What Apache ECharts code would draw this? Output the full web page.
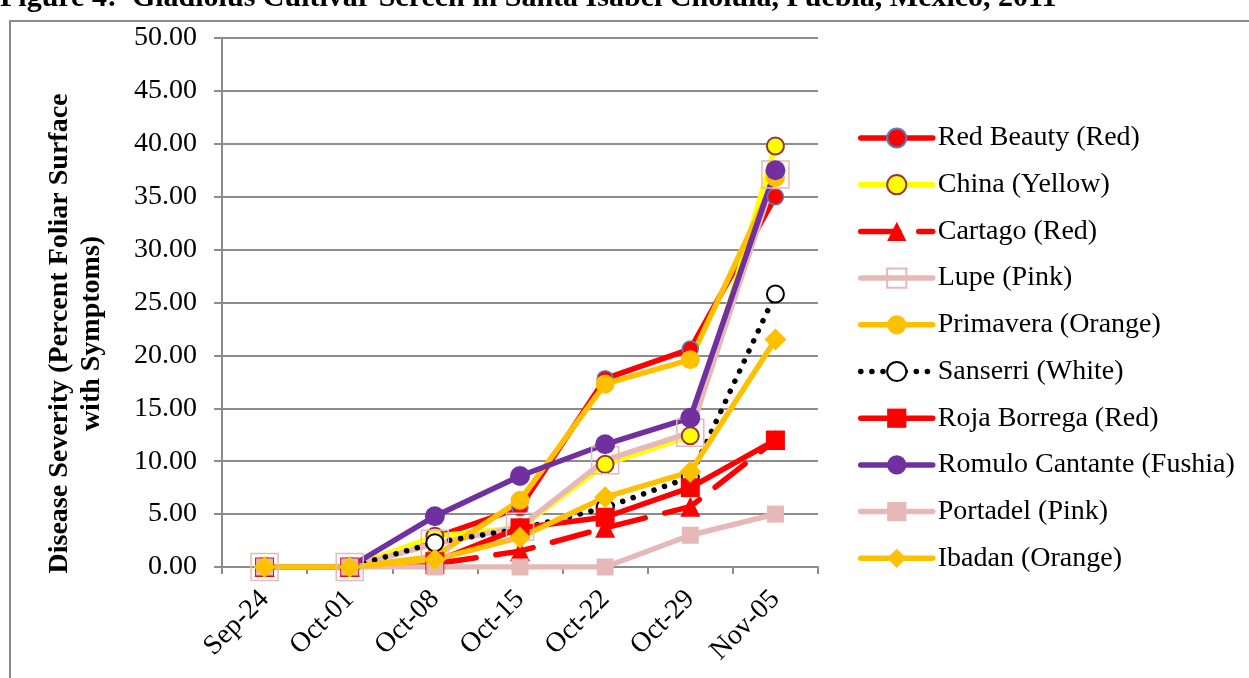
<!DOCTYPE html>
<html>
<head>
<meta charset="utf-8">
<script src="https://cdn.jsdelivr.net/npm/echarts@6/dist/echarts.min.js"></script>
<style>
  html, body { margin: 0; padding: 0; background: #fff; }
  #chart { width: 1249px; height: 678px; }
</style>
</head>
<body>
<div id="chart"></div>
<script>
// Sampling dates
const categories = ['Sep-24', 'Oct-01', 'Oct-08', 'Oct-15', 'Oct-22', 'Oct-29', 'Nov-05'];

// Disease severity (% foliar surface with symptoms) per cultivar
const redBeauty   = [0, 0, 2.8, 5.6, 17.8, 20.6, 35.0];
const china       = [0, 0, 2.9, 3.7, 9.7, 12.4, 39.8];
const cartago     = [0, 0, 0.3, 1.5, 3.7, 5.7, 12.0];
const lupe        = [0, 0, 2.2, 3.8, 10.1, 12.7, 37.1];
const primavera   = [0, 0, 1.0, 6.3, 17.3, 19.6, 36.8];
const sanserri    = [0, 0, 2.3, 3.6, 5.6, 8.5, 25.8];
const rojaBorrega = [0, 0, 0.5, 3.7, 4.7, 7.5, 12.0];
const romulo      = [0, 0, 4.8, 8.6, 11.6, 14.1, 37.5];
const portadel    = [0, 0, 0, 0, 0, 3.0, 5.0];
const ibadan      = [0, 0, 0.7, 2.8, 6.6, 9.0, 21.5];

const yTicks = { min: 0, max: 50, interval: 5 };

const FONT = "'Liberation Serif', 'Times New Roman', serif";
const GRID_GRAY = '#8c8c8c';
const LINE_W = 5.5;

function line(name, data, o) {
  const lineStyle = { color: o.lineColor, width: LINE_W, cap: 'round', join: 'round' };
  if (o.dash) lineStyle.type = o.dash;
  return {
    name: name,
    type: 'line',
    data: data,
    symbol: o.symbol,
    symbolSize: o.size,
    showAllSymbol: true,
    lineStyle: lineStyle,
    itemStyle: {
      color: o.fill,
      borderColor: o.border || o.fill,
      borderWidth: o.borderWidth || 0
    },
    emphasis: { disabled: true },
    animation: false
  };
}

const series = [
  line('Red Beauty (Red)', redBeauty, { symbol: 'circle', size: 16, lineColor: '#FF0000', fill: '#FF0000', border: '#4F81BD', borderWidth: 1.5 }),
  line('China (Yellow)', china, { symbol: 'circle', size: 17, lineColor: '#FFFF00', fill: '#FFFF00', border: '#953735', borderWidth: 2 }),
  line('Cartago (Red)', cartago, { symbol: 'triangle', size: 20, lineColor: '#FF0000', fill: '#FF0000', dash: [38, 20] }),
  line('Lupe (Pink)', lupe, { symbol: 'rect', size: 27, lineColor: '#E6B9B8', fill: 'rgba(255,255,255,0)', border: '#E6B9B8', borderWidth: 1.5 }),
  line('Primavera (Orange)', primavera, { symbol: 'circle', size: 19, lineColor: '#FFC000', fill: '#FFC000' }),
  line('Sanserri (White)', sanserri, { symbol: 'circle', size: 17, lineColor: '#000000', fill: '#FFFFFF', border: '#000000', borderWidth: 2, dash: [0.1, 11] }),
  line('Roja Borrega (Red)', rojaBorrega, { symbol: 'rect', size: 19, lineColor: '#FF0000', fill: '#FF0000' }),
  line('Romulo Cantante (Fushia)', romulo, { symbol: 'circle', size: 20, lineColor: '#7030A0', fill: '#7030A0' }),
  line('Portadel (Pink)', portadel, { symbol: 'rect', size: 17, lineColor: '#E6B9B8', fill: '#E6B9B8' }),
  line('Ibadan (Orange)', ibadan, { symbol: 'diamond', size: 22, lineColor: '#FFC000', fill: '#FFC000' })
];

const chart = echarts.init(document.getElementById('chart'), null, { renderer: 'canvas' });

chart.setOption({
  backgroundColor: '#ffffff',
  animation: false,
  textStyle: { fontFamily: FONT, color: '#000' },
  graphic: [
    {
      type: 'rect',
      shape: { x: 10, y: 21, width: 1300, height: 720 },
      style: { fill: 'none', stroke: GRID_GRAY, lineWidth: 2 },
      silent: true,
      z: -1
    },
    {
      type: 'text',
      x: 0,
      y: 13,
      style: {
        text: 'Figure 4:  Gladiolus Cultivar Screen in Santa Isabel Cholula, Puebla, Mexico, 2011',
        font: 'bold 30px ' + FONT,
        fill: '#000',
        verticalAlign: 'bottom'
      },
      silent: true
    }
  ],
  grid: { left: 222, right: 431, top: 38, bottom: 111, containLabel: false },
  legend: {
    orient: 'vertical',
    left: 858,
    top: 124,
    padding: 0,
    itemWidth: 72,
    itemHeight: 24,
    itemGap: 18.7,
    selectedMode: false,
    lineStyle: { width: 'inherit' },
    textStyle: { fontFamily: FONT, fontSize: 28, lineHeight: 28, color: '#000' },
    data: series.map(s => s.name)
  },
  xAxis: {
    type: 'category',
    data: categories,
    boundaryGap: true,
    axisLine: { show: true, lineStyle: { color: GRID_GRAY, width: 2 } },
    axisTick: { show: true, length: 7, interval: 0, lineStyle: { color: GRID_GRAY, width: 2 } },
    axisLabel: { interval: 0, rotate: 45, margin: 28, fontSize: 28, fontFamily: FONT, color: '#000' },
    splitLine: { show: false }
  },
  yAxis: {
    type: 'value',
    min: yTicks.min,
    max: yTicks.max,
    interval: yTicks.interval,
    name: 'Disease Severity (Percent Foliar Surface\nwith Symptoms)',
    nameLocation: 'middle',
    nameGap: 114,
    nameRotate: 90,
    nameTextStyle: { fontFamily: FONT, fontSize: 28, fontWeight: 'bold', lineHeight: 32, color: '#000', align: 'center', padding: [0, 62, 0, 0] },
    axisLine: { show: true, lineStyle: { color: GRID_GRAY, width: 2 } },
    axisTick: { show: true, length: 8, lineStyle: { color: GRID_GRAY, width: 2 } },
    axisLabel: { margin: 25, fontSize: 28, fontFamily: FONT, color: '#000', formatter: v => v.toFixed(2) },
    splitLine: { show: true, lineStyle: { color: GRID_GRAY, width: 2 } }
  },
  series: series
});
</script>
</body>
</html>
